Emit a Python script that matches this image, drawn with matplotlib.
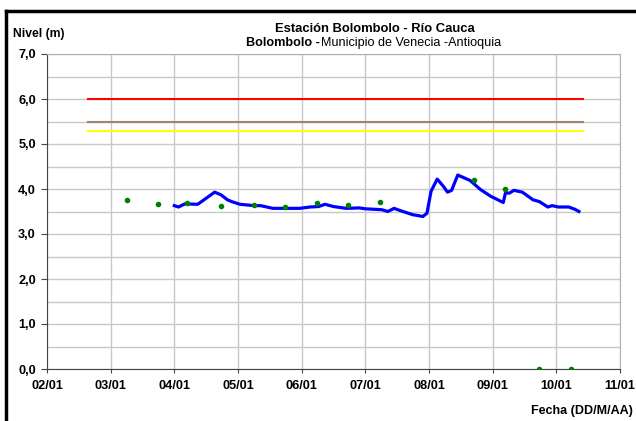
import matplotlib
matplotlib.use("Agg")
import matplotlib.pyplot as plt
import numpy as np
import calendar
from datetime import date
from matplotlib.lines import Line2D

plt.rcParams['font.family'] = ['Liberation Sans', 'DejaVu Sans']

# Continuous level series (blue)
level_dates = ["2013-04-01", "2013-04-03", "2013-04-06", "2013-04-12", "2013-04-15",
               "2013-04-20", "2013-04-23", "2013-04-26", "2013-04-28", "2013-05-02",
               "2013-05-09", "2013-05-12", "2013-05-18", "2013-05-31", "2013-06-05",
               "2013-06-09", "2013-06-12", "2013-06-16", "2013-06-22", "2013-06-28",
               "2013-07-01", "2013-07-09", "2013-07-12", "2013-07-15", "2013-07-18",
               "2013-07-24", "2013-07-29", "2013-07-31", "2013-08-02", "2013-08-05",
               "2013-08-08", "2013-08-10", "2013-08-12", "2013-08-15", "2013-08-18",
               "2013-08-21", "2013-08-26", "2013-08-31", "2013-09-06", "2013-09-07",
               "2013-09-09", "2013-09-11", "2013-09-15", "2013-09-20", "2013-09-23",
               "2013-09-27", "2013-09-29", "2013-10-02", "2013-10-07", "2013-10-10",
               "2013-10-12"]
level_values = [3.63, 3.60, 3.67, 3.66, 3.76,
                3.93, 3.87, 3.76, 3.72, 3.66,
                3.63, 3.63, 3.57, 3.57, 3.60,
                3.61, 3.66, 3.61, 3.57, 3.58,
                3.56, 3.54, 3.50, 3.57, 3.52,
                3.43, 3.39, 3.46, 3.95, 4.22,
                4.06, 3.93, 3.97, 4.31, 4.25,
                4.19, 3.99, 3.84, 3.70, 3.91,
                3.91, 3.97, 3.93, 3.76, 3.72,
                3.60, 3.63, 3.60, 3.60, 3.55,
                3.50]

# Manual readings (green dots)
obs_dates = ["2013-03-09", "2013-03-24", "2013-04-07", "2013-04-23", "2013-05-09",
             "2013-05-24", "2013-06-08", "2013-06-23", "2013-07-08", "2013-08-23",
             "2013-09-07", "2013-09-23", "2013-10-08"]
obs_values = [3.76, 3.67, 3.69, 3.63, 3.65,
              3.60, 3.68, 3.65, 3.72, 4.19,
              4.00, 0.0, 0.0]

# Alert thresholds
thr_start, thr_end = "2013-02-19", "2013-10-14"
thr_values = [6.0, 5.5, 5.3]
thr_colors = ["#ff0000", "#a08470", "#ffff00"]

x_ticks = ["2013-02-01", "2013-03-01", "2013-04-01", "2013-05-01", "2013-06-01",
           "2013-07-01", "2013-08-01", "2013-09-01", "2013-10-01", "2013-11-01"]
x_labels = ["02/01", "03/01", "04/01", "05/01", "06/01",
            "07/01", "08/01", "09/01", "10/01", "11/01"]
y_ticks = [0, 1, 2, 3, 4, 5, 6, 7]


def mpos(s):
    """Date string -> position on a month-based axis (equal width months)."""
    dt = date.fromisoformat(s)
    ndays = calendar.monthrange(dt.year, dt.month)[1]
    return (dt.year - 2013) * 12 + (dt.month - 2) + (dt.day - 1) / ndays


fig = plt.figure(figsize=(6.36, 4.21), dpi=100)
ax = fig.add_axes([47/636, 1 - 369/421, (620 - 47)/636, (369 - 54)/421])

for v, c in zip(thr_values, thr_colors):
    ax.plot([mpos(thr_start), mpos(thr_end)], [v, v], color=c, lw=1.5, zorder=3)

ax.plot([mpos(s) for s in level_dates], level_values, color="#0000ff", lw=2.3, zorder=4)
ax.plot([mpos(s) for s in obs_dates], obs_values, 'o', color="#008000", ms=3, zorder=5)

ax.set_xlim(mpos(x_ticks[0]), mpos(x_ticks[-1]))
ax.set_ylim(0, 7)
ax.set_xticks([mpos(s) for s in x_ticks])
ax.set_xticklabels(x_labels)
ax.set_yticks(y_ticks)
ax.set_yticklabels([f"{v:.1f}".replace('.', ',') for v in y_ticks])
ax.set_yticks(np.arange(0, 7.01, 0.5), minor=True)
ax.grid(True, which='major', color='#c8c8c8', lw=1)
ax.grid(True, which='minor', axis='y', color='#c8c8c8', lw=1)
ax.tick_params(which='minor', left=False)
ax.tick_params(axis='x', labelsize=9.2, length=3, color='#444444', pad=5)
ax.tick_params(axis='y', labelsize=9.2, length=4, color='#444444', pad=4)
for lab in ax.get_xticklabels() + ax.get_yticklabels():
    lab.set_fontweight('bold')
for side in ['top', 'right']:
    ax.spines[side].set_color('#b0b0b0')
for side in ['left', 'bottom']:
    ax.spines[side].set_color('#444444')
ax.set_axisbelow(True)

# Titles
fig.text(375/636, 1 - 29.5/421, "Estación Bolombolo - Río Cauca", ha='center', va='center',
         fontsize=9.4, fontweight='bold')
fig.canvas.draw()
renderer = fig.canvas.get_renderer()
sub_y = 1 - 43/421
tb = fig.text(0, sub_y, "Bolombolo -", ha='left', va='center', fontsize=9.1,
              fontweight='bold')
tn = fig.text(0, sub_y, "Municipio de Venecia -Antioquia", ha='left', va='center',
              fontsize=9.1)
wb = tb.get_window_extent(renderer).width
wn = tn.get_window_extent(renderer).width
x0 = 373 - (wb + wn) / 2
tb.set_x(x0 / 636)
tn.set_x((x0 + wb + 1) / 636)

fig.text(13/636, 1 - 34/421, "Nivel (m)", ha='left', va='center', fontsize=8.7,
         fontweight='bold')
fig.text(633/636, 1 - 411/421, "Fecha (DD/M/AA)", ha='right', va='center', fontsize=9,
         fontweight='bold')

# Black frame (top and left edges)
fig.add_artist(Line2D([6/636, 1], [1 - 11/421, 1 - 11/421], color='black', lw=2.5,
                      transform=fig.transFigure))
fig.add_artist(Line2D([6/636, 6/636], [0, 1 - 11/421], color='black', lw=2.5,
                      transform=fig.transFigure))

fig.savefig("out.png", dpi=100)
